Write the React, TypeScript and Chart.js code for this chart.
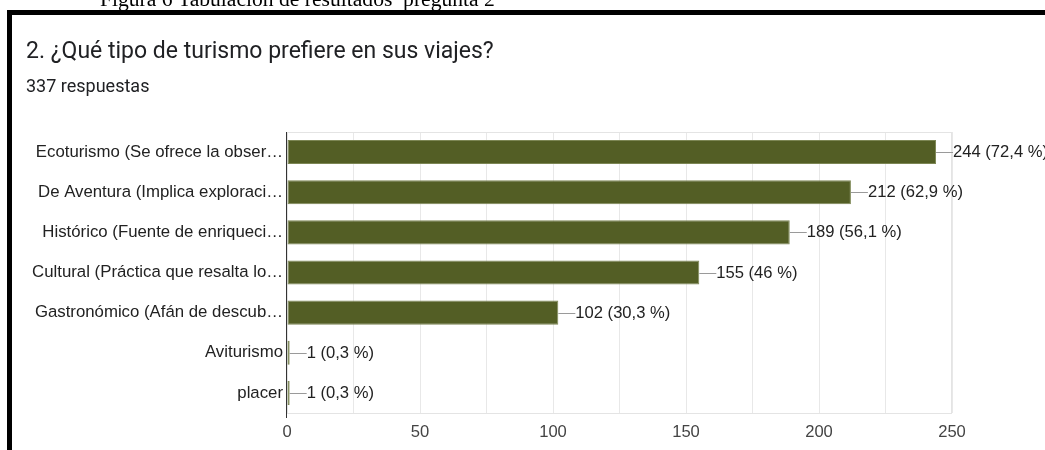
import React, { useEffect, useRef } from "react";
import { Chart, registerables } from "chart.js";

Chart.register(...registerables);

const caption = "Figura 6 Tabulación de resultados  pregunta 2";
const title = "2. ¿Qué tipo de turismo prefiere en sus viajes?";
const subtitle = "337 respuestas";

const categories = [
  "Ecoturismo (Se ofrece la obser…",
  "De Aventura (Implica exploraci…",
  "Histórico (Fuente de enriqueci…",
  "Cultural (Práctica que resalta lo…",
  "Gastronómico (Afán de descub…",
  "Aviturismo",
  "placer",
];
const counts = [244, 212, 189, 155, 102, 1, 1];
const percents = ["72,4", "62,9", "56,1", "46", "30,3", "0,3", "0,3"];
const xTicks = [0, 50, 100, 150, 200, 250];

const W = 1045;
const H = 450;
const AREA = { left: 287, right: 952, top: 132, bottom: 413 };
const LABEL_FONT = "Liberation Sans, Arial, sans-serif";
const BAR_COLOR = "#535e25";

const decorPlugin = {
  id: "decor",
  beforeDatasetsDraw(chart: any) {
    const { ctx, chartArea: a } = chart;
    ctx.save();
    ctx.strokeStyle = "#e4e4e4";
    ctx.lineWidth = 1;
    ctx.strokeRect(a.left + 0.5, a.top + 0.5, a.right - a.left - 1, a.bottom - a.top);
    ctx.restore();
  },
  afterDatasetsDraw(chart: any) {
    const { ctx, chartArea: a } = chart;
    const meta = chart.getDatasetMeta(0);
    ctx.save();
    // left axis line
    ctx.strokeStyle = "#333";
    ctx.lineWidth = 1;
    ctx.beginPath();
    ctx.moveTo(a.left - 0.5, a.top);
    ctx.lineTo(a.left - 0.5, a.bottom + 5);
    ctx.stroke();
    // value labels with leader lines
    ctx.font = `16.6px ${LABEL_FONT}`;
    ctx.textBaseline = "middle";
    ctx.textAlign = "left";
    meta.data.forEach((bar: any, i: number) => {
      const x = bar.x;
      const y = Math.round(bar.y) + 0.5;
      ctx.strokeStyle = "#9a9a9a";
      ctx.beginPath();
      ctx.moveTo(x, y);
      ctx.lineTo(x + 17, y);
      ctx.stroke();
      ctx.fillStyle = "#222";
      ctx.fillText(`${counts[i]} (${percents[i]} %)`, x + 17, bar.y + 0.5);
    });
    ctx.restore();
  },
  afterDraw(chart: any) {
    const { ctx } = chart;
    ctx.save();
    // black frame
    ctx.fillStyle = "#000";
    ctx.fillRect(7, 10, W - 7, 5);
    ctx.fillRect(7, 10, 5, H - 10);
    // caption
    ctx.fillStyle = "#000";
    ctx.textBaseline = "alphabetic";
    ctx.textAlign = "left";
    ctx.font = `21.6px "Liberation Serif", "Times New Roman", serif`;
    ctx.fillText(caption, 100, 6);
    // title
    ctx.fillStyle = "#202124";
    ctx.font = `23px Roboto, sans-serif`;
    ctx.fillText(title, 26, 58);
    ctx.font = `18px Roboto, sans-serif`;
    ctx.fillText(subtitle, 26, 92);
    ctx.restore();
  },
};

export default function App() {
  const ref = useRef<HTMLCanvasElement | null>(null);

  useEffect(() => {
    if (!ref.current) return;
    const chart = new Chart(ref.current, {
      type: "bar",
      data: {
        labels: categories,
        datasets: [
          {
            data: counts,
            backgroundColor: BAR_COLOR,
            borderColor: "#7c8654",
            borderWidth: 1,
            borderSkipped: false,
            barPercentage: 0.6,
            categoryPercentage: 1,
          },
        ],
      },
      options: {
        indexAxis: "y",
        responsive: false,
        animation: false,
        devicePixelRatio: 1,
        layout: {
          padding: { top: AREA.top, right: W - AREA.right, left: 0, bottom: 0 },
        },
        plugins: {
          legend: { display: false },
          tooltip: { enabled: false },
          title: { display: false },
        },
        scales: {
          x: {
            type: "linear",
            min: 0,
            max: 250,
            afterFit(scale: any) {
              scale.height = H - AREA.bottom;
            },
            afterBuildTicks(scale: any) {
              const t: any[] = [];
              for (let v = 0; v <= 250; v += 25) t.push({ value: v });
              scale.ticks = t;
            },
            grid: { color: "#e8e8e8", drawTicks: false },
            border: { display: false },
            ticks: {
              autoSkip: false,
              maxRotation: 0,
              padding: 9,
              color: "#444",
              font: { family: LABEL_FONT, size: 16.6 },
              callback: (v: any) => (xTicks.includes(Number(v)) ? String(v) : ""),
            },
          },
          y: {
            afterFit(scale: any) {
              scale.width = AREA.left;
            },
            grid: { display: false, drawTicks: false },
            border: { display: false },
            ticks: {
              autoSkip: false,
              padding: 4,
              color: "#222",
              font: { family: LABEL_FONT, size: 16.8 },
            },
          },
        },
      },
      plugins: [decorPlugin],
    });
    return () => chart.destroy();
  }, []);

  return (
    <div style={{ position: "fixed", left: 0, top: 0, width: W, height: H, background: "#fff" }}>
      <canvas ref={ref} width={W} height={H} style={{ display: "block" }} />
    </div>
  );
}
